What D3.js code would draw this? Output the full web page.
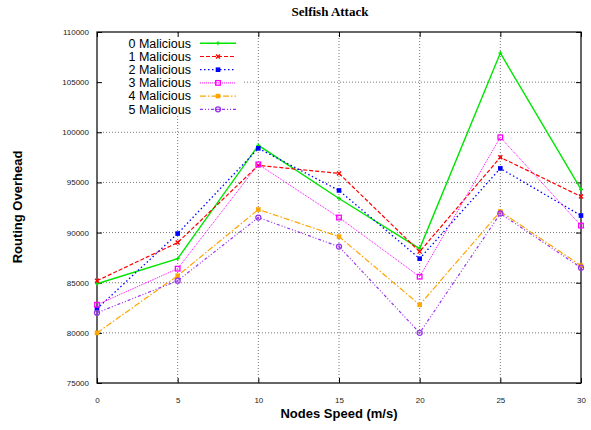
<!DOCTYPE html>
<html>
<head>
<meta charset="utf-8">
<script src="https://cdn.jsdelivr.net/npm/d3@7"></script>
<style>
  body { margin: 0; background: #fff; }
  text { font-family: "Liberation Sans", Arial, sans-serif; }
</style>
</head>
<body>
<svg id="chart"></svg>
<script>
// node speeds (m/s)
const speeds = [0, 5, 10, 15, 20, 25, 30];
const seriesNames = ["0 Malicious", "1 Malicious", "2 Malicious", "3 Malicious", "4 Malicious", "5 Malicious"];

// routing overhead
const mal0 = [84900, 87400, 98700, 93400, 88400, 107900, 94300];
const mal1 = [85200, 89000, 96700, 95900, 88100, 97500, 93600];
const mal2 = [82400, 89900, 98400, 94200, 87400, 96400, 91700];
const mal3 = [82800, 86400, 96800, 91500, 85600, 99500, 90700];
const mal4 = [80000, 85700, 92300, 89600, 82800, 92100, 86700];
const mal5 = [82000, 85200, 91500, 88600, 80000, 91900, 86500];

const yTicks = [75000, 80000, 85000, 90000, 95000, 100000, 105000, 110000];
const xTicks = [0, 5, 10, 15, 20, 25, 30];

const config = {
  width: 591,
  height: 430,
  margin: { top: 32, right: 10, bottom: 47, left: 97 }
};

// per-series look, gnuplot style
const styles = [
  { color: "#00e600", dash: null, width: 1.4, marker: "plus" },
  { color: "#ff0000", dash: "4,2", width: 1.2, marker: "cross" },
  { color: "#0000ff", dash: "1.5,2.5", width: 1.3, marker: "square" },
  { color: "#ff00ff", dash: "1,1", width: 1, marker: "openSquare" },
  { color: "#ffa500", dash: "6,2,1.5,2", width: 1.2, marker: "square" },
  { color: "#9933ee", dash: "3,2,1,2,1,2", width: 1.2, marker: "openCircle" }
];

const allSeries = [mal0, mal1, mal2, mal3, mal4, mal5].map((vals, i) => ({
  name: seriesNames[i],
  style: styles[i],
  points: vals.map((v, j) => ({ x: speeds[j], y: v }))
}));

const w = config.width - config.margin.left - config.margin.right;
const h = config.height - config.margin.top - config.margin.bottom;

const svg = d3.select("#chart")
  .attr("width", config.width)
  .attr("height", config.height);

const chart = svg.append("g")
  .attr("transform", `translate(${config.margin.left},${config.margin.top})`);

const xScale = d3.scaleLinear().domain([0, 30]).range([0, w]);
const yScale = d3.scaleLinear().domain([75000, 110000]).range([h, 0]);

// grid lines
chart.append("g")
  .selectAll("line")
  .data(yTicks.slice(1, -1))
  .join("line")
  .attr("x1", 0).attr("x2", w)
  .attr("y1", d => yScale(d)).attr("y2", d => yScale(d))
  .attr("stroke", "#777").attr("stroke-width", 1)
  .attr("stroke-dasharray", "1,2");

chart.append("g")
  .selectAll("line")
  .data(xTicks.slice(1, -1))
  .join("line")
  .attr("y1", 0).attr("y2", h)
  .attr("x1", d => xScale(d)).attr("x2", d => xScale(d))
  .attr("stroke", "#777").attr("stroke-width", 1)
  .attr("stroke-dasharray", "1,2");

// key box hides the grid behind it
chart.append("rect")
  .attr("x", 2).attr("y", 1)
  .attr("width", 143).attr("height", 83)
  .attr("fill", "#fff");

// axes with inward ticks
const xAxis = d3.axisBottom(xScale).tickValues(xTicks).tickSize(-5).tickPadding(14).tickSizeOuter(0);
const yAxis = d3.axisLeft(yScale).tickValues(yTicks).tickSize(-5).tickPadding(8)
  .tickFormat(d3.format("d")).tickSizeOuter(0);
const xAxisTop = d3.axisTop(xScale).tickValues(xTicks).tickSize(-5).tickFormat("").tickSizeOuter(0);
const yAxisRight = d3.axisRight(yScale).tickValues(yTicks).tickSize(-5).tickFormat("").tickSizeOuter(0);

const xAxisG = chart.append("g").attr("transform", `translate(0,${h})`).call(xAxis);
const yAxisG = chart.append("g").call(yAxis);
chart.append("g").call(xAxisTop);
chart.append("g").attr("transform", `translate(${w},0)`).call(yAxisRight);

[xAxisG, yAxisG].forEach(g => {
  g.selectAll("text").attr("font-size", 8).attr("fill", "#222")
    .attr("font-family", "Liberation Sans, Arial, sans-serif");
});
chart.selectAll(".domain").remove();
chart.selectAll(".tick line").attr("stroke", "#000");

// border
chart.append("rect")
  .attr("width", w).attr("height", h)
  .attr("fill", "none").attr("stroke", "#000").attr("stroke-width", 1.2);

// markers
function drawMarker(g, kind, color) {
  if (kind === "plus") {
    g.append("path").attr("d", "M-2,0H2M0,-2V2").attr("stroke", color).attr("stroke-width", 1.2);
  } else if (kind === "cross") {
    g.append("path").attr("d", "M-2,-2L2,2M-2,2L2,-2").attr("stroke", color).attr("stroke-width", 1.4);
  } else if (kind === "square") {
    g.append("rect").attr("x", -2.3).attr("y", -2.3).attr("width", 4.6).attr("height", 4.6).attr("fill", color);
  } else if (kind === "openSquare") {
    g.append("rect").attr("x", -2.3).attr("y", -2.3).attr("width", 4.6).attr("height", 4.6)
      .attr("fill", "none").attr("stroke", color).attr("stroke-width", 1.3);
  } else if (kind === "openCircle") {
    g.append("circle").attr("r", 2.5).attr("fill", "none").attr("stroke", color).attr("stroke-width", 1.3);
    g.append("circle").attr("r", 0.9).attr("fill", color);
  }
}

const line = d3.line().x(d => xScale(d.x)).y(d => yScale(d.y));

const seriesG = chart.selectAll(".series")
  .data(allSeries)
  .join("g")
  .attr("class", "series");

seriesG.append("path")
  .attr("d", d => line(d.points))
  .attr("fill", "none")
  .attr("stroke", d => d.style.color)
  .attr("stroke-width", d => d.style.width)
  .attr("stroke-dasharray", d => d.style.dash);

seriesG.each(function (s) {
  const g = d3.select(this);
  s.points.forEach(p => {
    const m = g.append("g").attr("transform", `translate(${xScale(p.x)},${yScale(p.y)})`);
    drawMarker(m, s.style.marker, s.style.color);
  });
});

// legend
const legend = svg.append("g");
const legendRow = legend.selectAll("g")
  .data(allSeries)
  .join("g")
  .attr("transform", (d, i) => `translate(0,${43.3 + i * 13.2})`);

legendRow.append("text")
  .attr("x", 191).attr("y", 0).attr("dy", "0.35em")
  .attr("text-anchor", "end")
  .attr("font-size", 12.5)
  .attr("fill", "#000")
  .text(d => d.name);

legendRow.append("line")
  .attr("x1", 200).attr("x2", 236)
  .attr("stroke", d => d.style.color)
  .attr("stroke-width", d => d.style.width)
  .attr("stroke-dasharray", d => d.style.dash);

legendRow.each(function (s) {
  const m = d3.select(this).append("g").attr("transform", "translate(218,0)");
  drawMarker(m, s.style.marker, s.style.color);
});

// titles
svg.append("text")
  .attr("x", 330).attr("y", 16)
  .attr("text-anchor", "middle")
  .style("font-family", "Liberation Serif, serif")
  .attr("font-weight", "bold").attr("font-size", 13)
  .text("Selfish Attack");

svg.append("text")
  .attr("x", 339).attr("y", 418)
  .attr("text-anchor", "middle")
  .attr("font-weight", "bold").attr("font-size", 13)
  .text("Nodes Speed (m/s)");

svg.append("text")
  .attr("transform", "translate(22,207) rotate(-90)")
  .attr("text-anchor", "middle")
  .attr("font-weight", "bold").attr("font-size", 13)
  .text("Routing Overhead");
</script>
</body>
</html>
